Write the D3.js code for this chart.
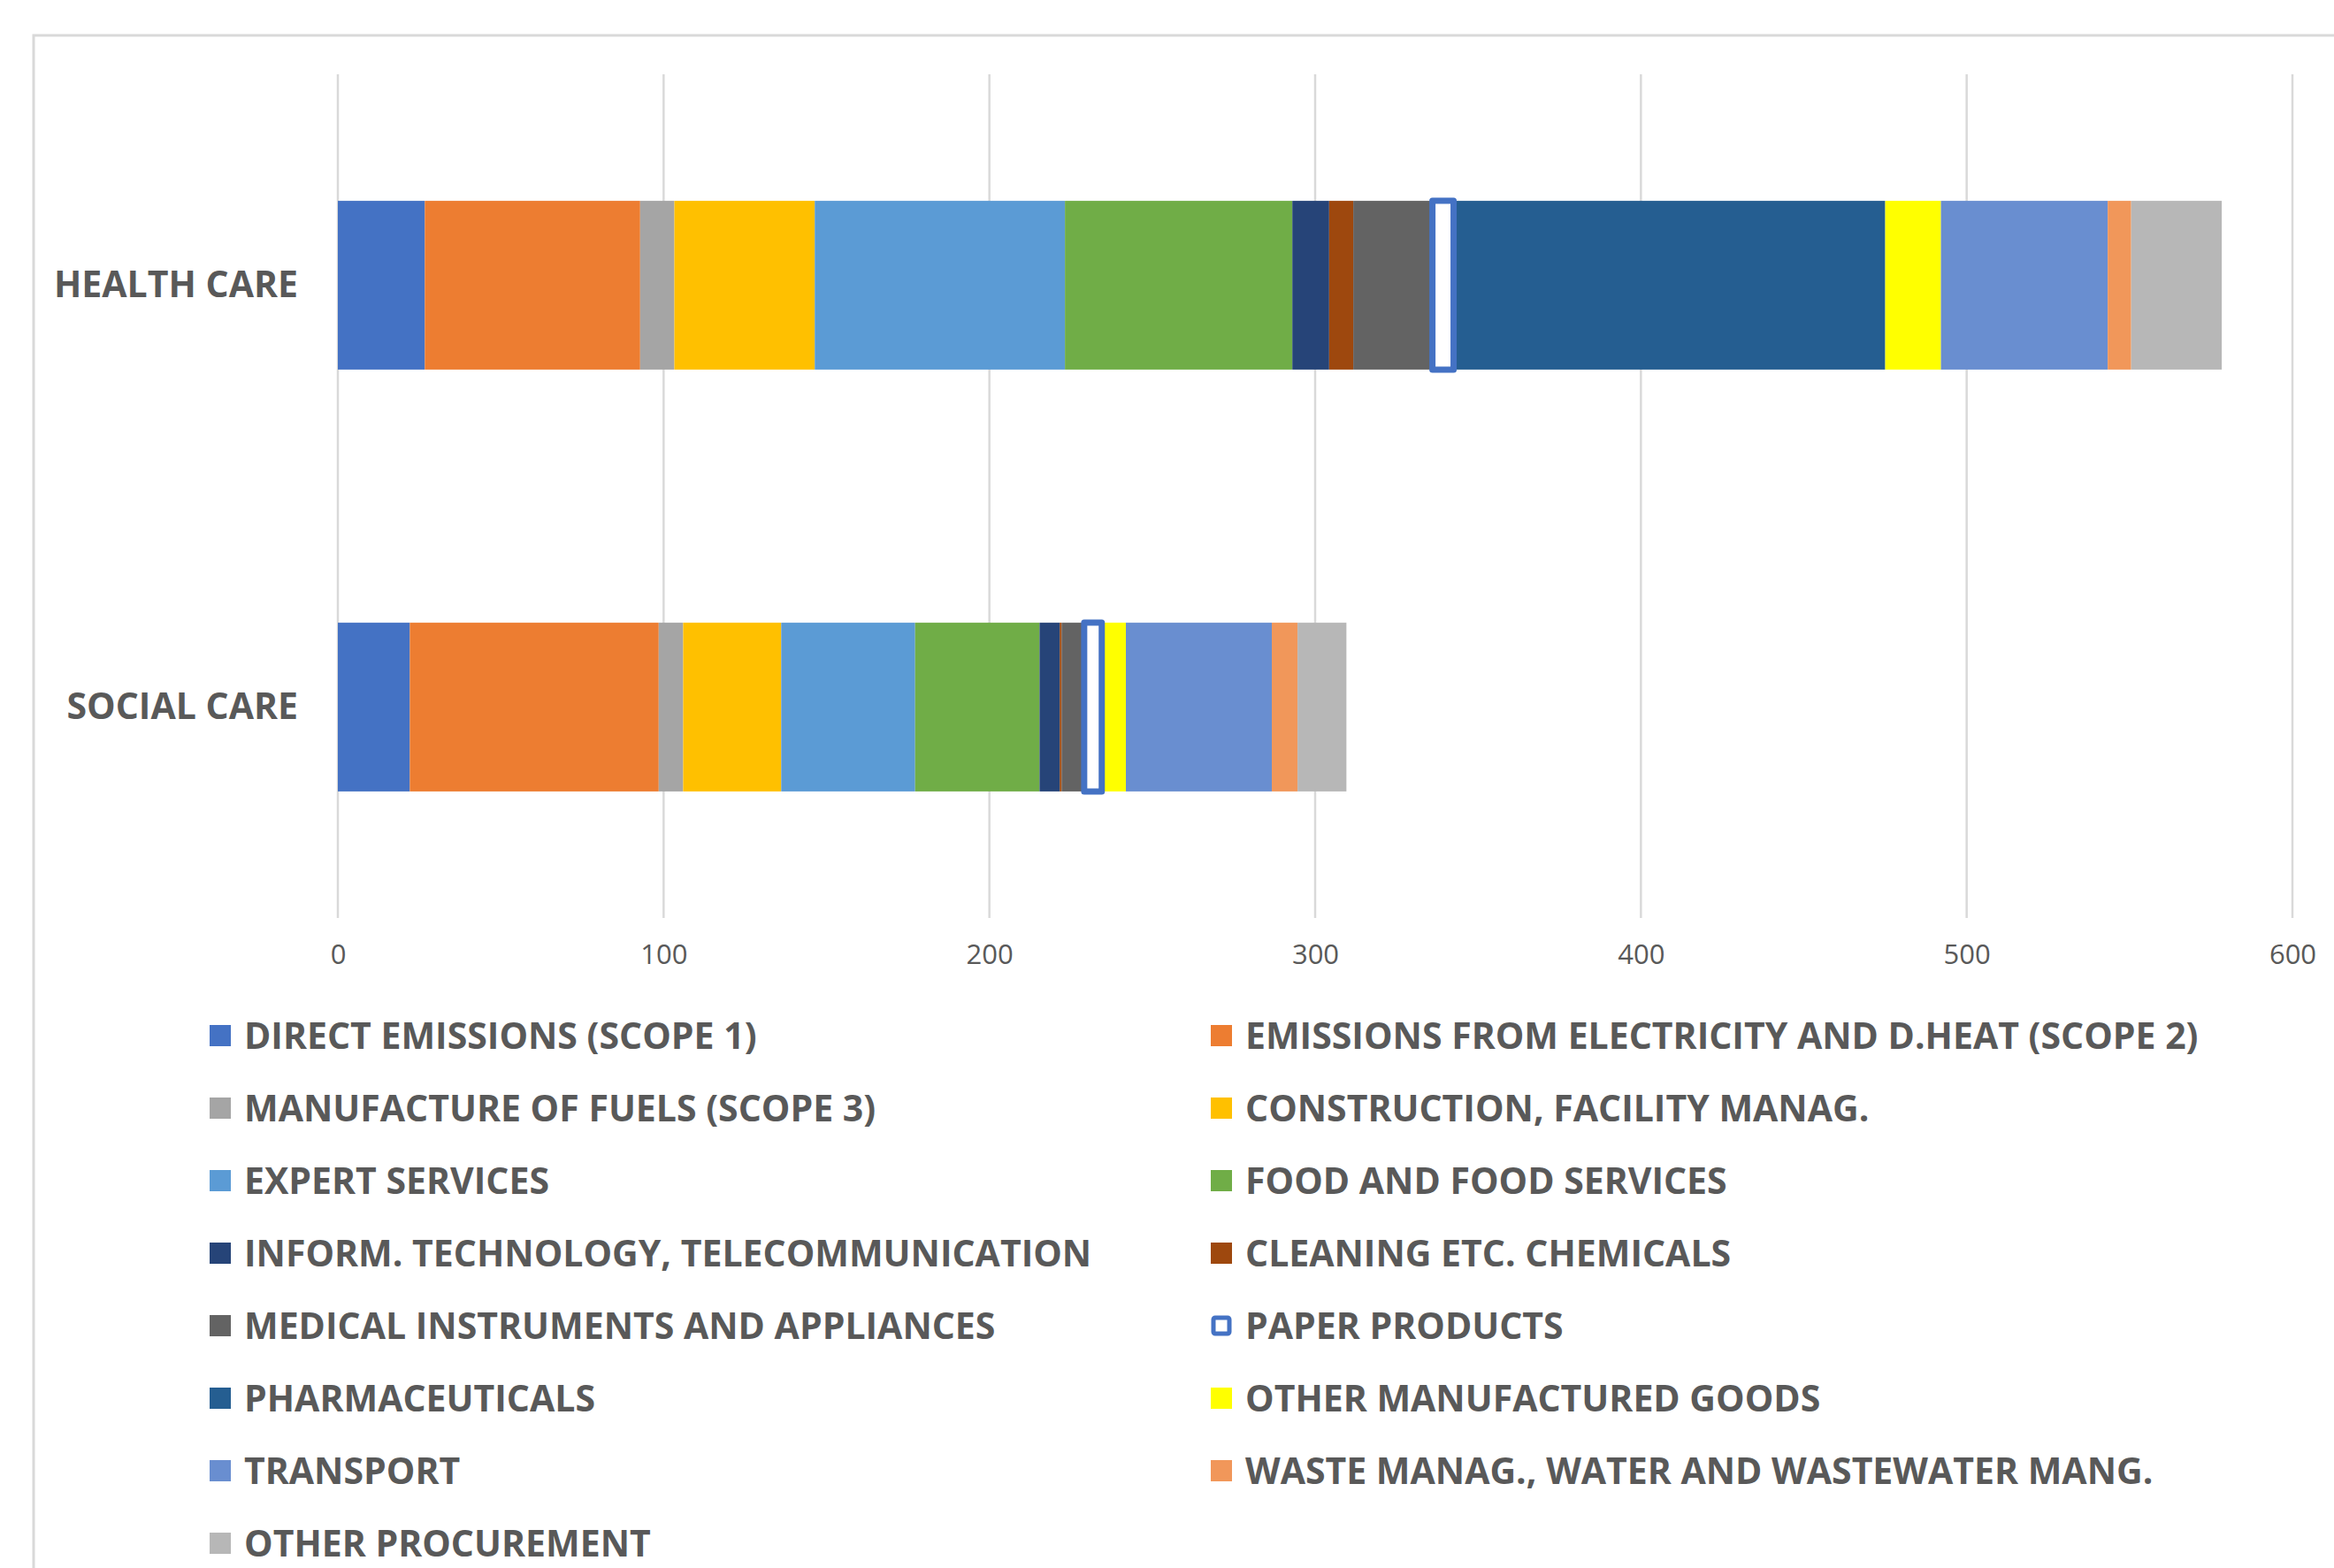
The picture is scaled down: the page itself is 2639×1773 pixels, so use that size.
<!DOCTYPE html>
<html>
<head>
<meta charset="utf-8">
<script src="https://cdn.jsdelivr.net/npm/d3@7"></script>
<style>
  body { margin: 0; background: #fff; }
  text { font-family: "Liberation Sans Narrow", "Open Sans", sans-serif; fill: #595959; }
</style>
</head>
<body>
<div id="chart"></div>
<script>
const categories = ["HEALTH CARE", "SOCIAL CARE"];

const seriesNames = [
  "DIRECT EMISSIONS (SCOPE 1)",
  "EMISSIONS FROM ELECTRICITY AND D.HEAT (SCOPE 2)",
  "MANUFACTURE OF FUELS (SCOPE 3)",
  "CONSTRUCTION, FACILITY MANAG.",
  "EXPERT SERVICES",
  "FOOD AND FOOD SERVICES",
  "INFORM. TECHNOLOGY, TELECOMMUNICATION",
  "CLEANING ETC. CHEMICALS",
  "MEDICAL INSTRUMENTS AND APPLIANCES",
  "PAPER PRODUCTS",
  "PHARMACEUTICALS",
  "OTHER MANUFACTURED GOODS",
  "TRANSPORT",
  "WASTE MANAG., WATER AND WASTEWATER MANG.",
  "OTHER PROCUREMENT"
];

const healthCare = [26.7, 66.1, 10.5, 43.1, 76.8, 69.8, 11.3, 7.4, 24.3, 6.5, 132.5, 17.1, 51.2, 7.2, 27.8];
const socialCare = [22.1, 76.4, 7.5, 30.1, 41.1, 38.2, 6.2, 0.6, 6.9, 5.4, 0.8, 6.6, 44.8, 7.9, 15.0];

const xTicks = [0, 100, 200, 300, 400, 500, 600];

const colors = ["#4472C4", "#ED7D31", "#A5A5A5", "#FFC000", "#5B9BD5", "#70AD47", "#264478",
  "#9E480E", "#636363", "#FFFFFF", "#255E91", "#FFFF00", "#698ED0", "#F1975A", "#B7B7B7"];
const outlined = "PAPER PRODUCTS";

const W = 2639, H = 1773;
const svg = d3.select("#chart").append("svg").attr("width", W).attr("height", H);

// chart frame (cropped on right and bottom)
svg.append("rect")
  .attr("x", 38).attr("y", 40).attr("width", W + 50).attr("height", H + 50)
  .attr("fill", "none").attr("stroke", "#d9d9d9").attr("stroke-width", 3);

const plot = { left: 382, right: 2592, top: 84, bottom: 1038 };

const x = d3.scaleLinear().domain([0, 600]).range([plot.left, plot.right]);
const y = d3.scaleBand().domain(categories).range([plot.top, plot.bottom])
  .paddingInner(0.6).paddingOuter(0.3);

// gridlines
svg.append("g").selectAll("line").data(xTicks).enter().append("line")
  .attr("x1", d => x(d)).attr("x2", d => x(d))
  .attr("y1", plot.top).attr("y2", plot.bottom)
  .attr("stroke", "#d9d9d9").attr("stroke-width", 2.5);

// x axis labels
const xAxis = svg.append("g").attr("transform", `translate(0,${plot.bottom})`)
  .call(d3.axisBottom(x).tickValues(xTicks).tickSize(0).tickPadding(30));
xAxis.select(".domain").remove();
xAxis.selectAll("text").style("font-size", "31px").attr("fill", "#595959")
  .style("font-family", '"Liberation Sans Narrow", "Open Sans", sans-serif');

// y axis labels
const yAxis = svg.append("g").attr("transform", `translate(${plot.left},0)`)
  .call(d3.axisLeft(y).tickSize(0).tickPadding(45));
yAxis.select(".domain").remove();
yAxis.selectAll("text").style("font-size", "41px").style("font-weight", "bold").attr("fill", "#595959")
  .style("font-family", '"Liberation Sans Narrow", "Open Sans", sans-serif');

// stacked data
const rows = categories.map((c, i) => {
  const vals = i === 0 ? healthCare : socialCare;
  const o = { category: c };
  seriesNames.forEach((s, j) => o[s] = vals[j]);
  return o;
});
const stacked = d3.stack().keys(seriesNames)(rows);

const layers = svg.append("g").selectAll("g").data(stacked).enter().append("g")
  .attr("fill", (d, i) => colors[i]);

layers.each(function (layer, i) {
  const isOut = layer.key === outlined;
  d3.select(this).selectAll("rect").data(layer).enter().append("rect")
    .attr("x", d => x(d[0]))
    .attr("y", d => y(d.data.category))
    .attr("width", d => x(d[1]) - x(d[0]))
    .attr("height", y.bandwidth())
    .attr("stroke", isOut ? "#4472C4" : "none")
    .attr("stroke-width", isOut ? 7 : 0)
    .attr("stroke-linejoin", "round");
});
// draw outlined series on top so its border is not covered
layers.filter(d => d.key === outlined).raise();

// legend
const legend = svg.append("g");
const legX = [237, 1369], legY0 = 1171, legStep = 82, sw = 24;
seriesNames.forEach((s, i) => {
  const col = i % 2, row = Math.floor(i / 2);
  const g = legend.append("g").attr("transform", `translate(${legX[col]},${legY0 + row * legStep})`);
  const isOut = s === outlined;
  g.append("rect")
    .attr("x", isOut ? 3 : 0).attr("y", isOut ? -sw / 2 + 3 : -sw / 2)
    .attr("width", isOut ? sw - 6 : sw).attr("height", isOut ? sw - 6 : sw)
    .attr("fill", colors[i])
    .attr("stroke", isOut ? "#4472C4" : "none").attr("stroke-width", isOut ? 5 : 0)
    .attr("rx", isOut ? 2 : 0);
  g.append("text").attr("x", 39).attr("y", 0).attr("dy", "0.36em")
    .style("font-size", "41px").style("font-weight", "bold").text(s);
});
</script>
</body>
</html>
